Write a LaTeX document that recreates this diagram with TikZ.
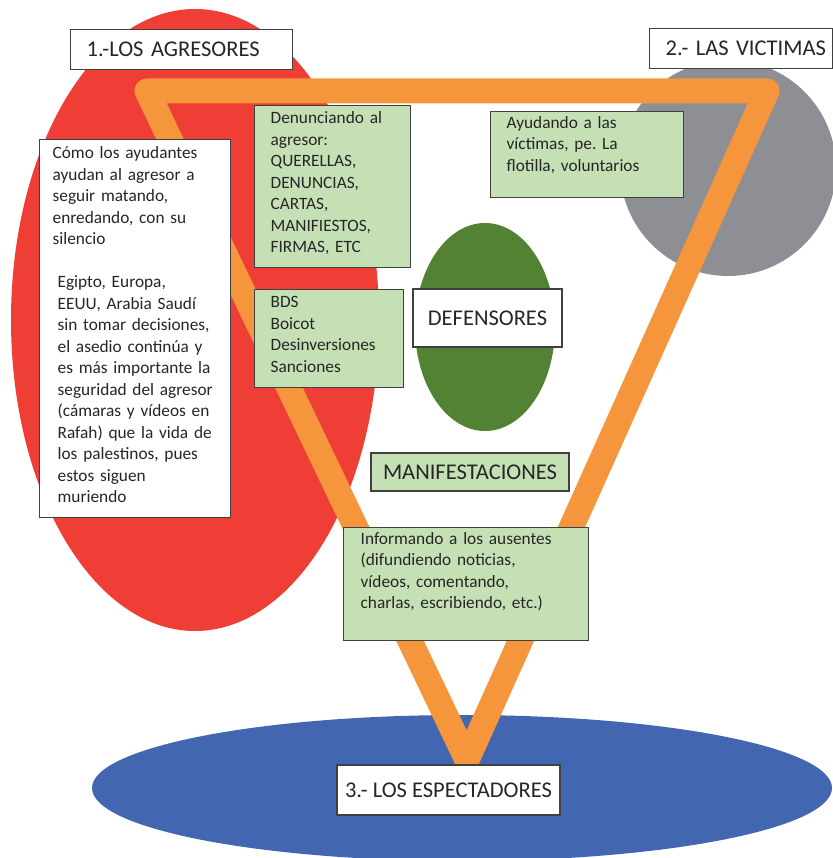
\documentclass[tikz,border=0pt]{standalone}
\usepackage{fontspec}
\setmainfont{Carlito}
\usepackage{xcolor}
\usepackage{tikz}
\usetikzlibrary{positioning}
\frenchspacing

\definecolor{agrred}{RGB}{238,62,54}
\definecolor{victgray}{RGB}{142,143,148}
\definecolor{defgreen}{RGB}{84,130,53}
\definecolor{espblue}{RGB}{67,102,176}
\definecolor{bandorange}{RGB}{245,150,60}
\definecolor{actgreen}{RGB}{197,224,180}
\definecolor{boxline}{RGB}{64,64,64}
\definecolor{ink}{RGB}{38,38,38}

\begin{document}
\begin{tikzpicture}[
  x=1pt,y=-1pt,
  font=\fontsize{17.3}{21.5}\selectfont,
  textbox/.style={draw=boxline,line width=1.3pt,text=ink,align=left,anchor=north west,inner ysep=0pt},
  whitebox/.style={textbox,fill=white},
  greenbox/.style={textbox,fill=actgreen},
  title/.style={draw=boxline,line width=1.3pt,fill=white,text=ink,inner sep=0pt,
    font=\fontsize{22.5}{26}\selectfont},
  band/.style={draw=bandorange,line width=25pt,line join=round}
]
\useasboundingbox (0,0) rectangle (832,858);
% the four groups
\fill[agrred] (195,320) ellipse [x radius=184, y radius=311];
\fill[victgray] (728,168) circle [radius=108];
\fill[defgreen] (485,327) ellipse [x radius=70, y radius=104];
\fill[espblue] (462,788) ellipse [x radius=370, y radius=73];
% triangle
\coordinate (agr) at (147,91);
\coordinate (vic) at (767,91);
\coordinate (esp) at (467,760);
\draw[band] (agr) -- (vic) -- (esp) -- cycle;
% labels
\node[title,anchor=north west,align=left,text width=190pt,inner xsep=16pt,minimum height=40pt] (agresores) at (70,29) {1.-LOS AGRESORES};
\node[title,anchor=north west,align=left,text width=151pt,inner xsep=16pt,minimum height=40pt] (victimas) at (649,28) {\mbox{2.- LAS VICTIMAS}};
\node[title,minimum width=149pt,minimum height=58pt] (defensores) at (487.5,318) {DEFENSORES};
\node[title,fill=actgreen,minimum width=198pt,minimum height=38pt] (manif) at (470,472) {MANIFESTACIONES};
\node[title,minimum width=223pt,minimum height=50pt] (espectadores) at (448.5,790) {3.- LOS ESPECTADORES};
% text boxes
\node[whitebox,text width=165pt,inner xsep=13pt,text height=19pt,text depth=359pt] (silencio) at (39,139)
  {Cómo los ayudantes\\ayudan al agresor a\\seguir matando,\\enredando, con su\\silencio\par\vspace{21.5pt}%
   \hspace*{5pt}\parbox[t]{160pt}{\raggedright Egipto, Europa,\\EEUU, Arabia Saudí\\sin tomar decisiones,\\el asedio continúa y\\es más importante la\\seguridad del agresor\\(cámaras y vídeos en\\Rafah) que la vida de\\los palestinos, pues\\estos siguen\\muriendo}};
\node[greenbox,text width=124pt,inner xsep=16pt,text height=18pt,text depth=144pt] (denuncia) at (254,105)
  {Denunciando al\\agresor:\\QUERELLAS,\\DENUNCIAS,\\CARTAS,\\MANIFIESTOS,\\FIRMAS, ETC};
\node[greenbox,text width=161pt,inner xsep=16pt,text height=16.5pt,text depth=69.5pt] (ayuda) at (490,111)
  {Ayudando a las\\víctimas, pe. La\\flotilla, voluntarios};
\node[greenbox,text width=117pt,inner xsep=16pt,text height=18pt,text depth=80pt] (boicot) at (254,289)
  {BDS\\Boicot\\Desinversiones\\Sanciones};
\node[greenbox,text width=211pt,inner xsep=17pt,text height=16.5pt,text depth=96.5pt] (informa) at (343,527)
  {Informando a los ausentes\\(difundiendo noticias,\\vídeos, comentando,\\charlas, escribiendo, etc.)};
\end{tikzpicture}
\end{document}
